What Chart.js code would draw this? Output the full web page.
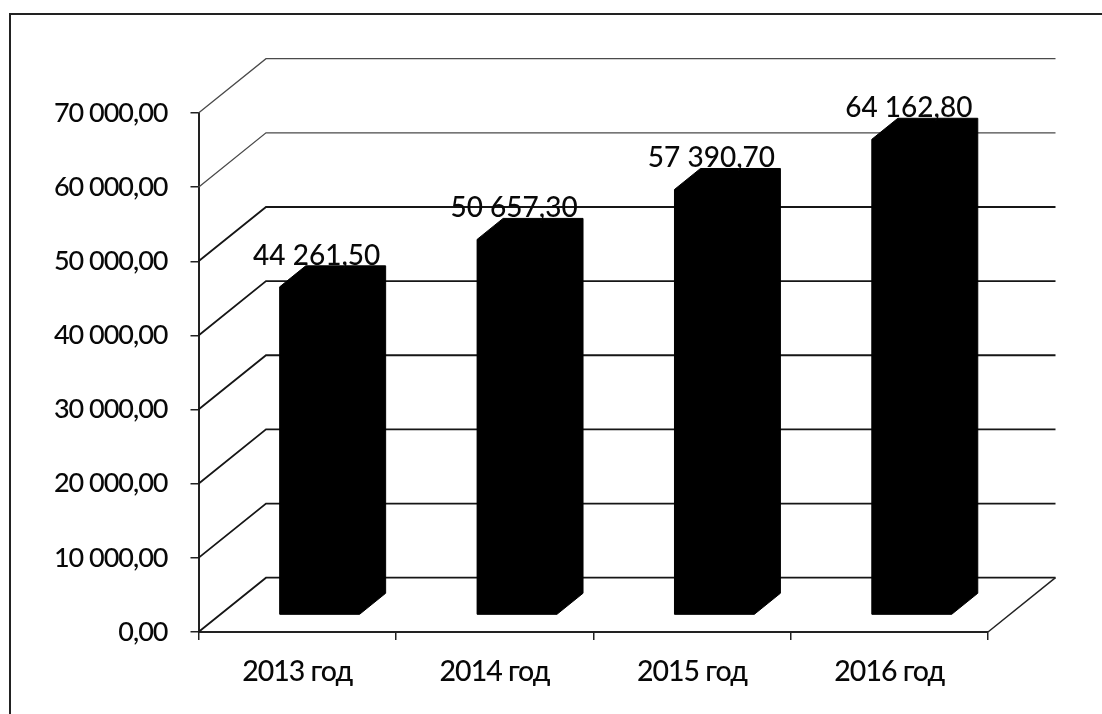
<!DOCTYPE html>
<html lang="ru">
<head>
<meta charset="utf-8">
<title>2013–2016</title>
<style>
html,body{margin:0;padding:0;background:#fff;}
#wrap{position:relative;width:1102px;height:714px;}
canvas{display:block;}
</style>
<script src="https://cdn.jsdelivr.net/npm/chart.js@4"></script>
</head>
<body>
<div id="wrap"><canvas id="c" width="1102" height="714"></canvas></div>
<script>
const categories = ["2013 год", "2014 год", "2015 год", "2016 год"];
const values = [44261.50, 50657.30, 57390.70, 64162.80];
const axisMax = 70000;
const axisStep = 10000;

const INK = "#080808";
const FONT = "Lato";
const wallDX = 67.5, wallDY = -54.3;   // floor depth of the 3D box
const barDX = 22.5, barDY = -17;       // where the bar's front face sits inside the box
const sideDX = 26, sideDY = -21;       // depth of each bar

function fmt(v, decimals) {
  const s = v.toFixed(decimals).split(".");
  const whole = s[0].replace(/\B(?=(\d{3})+(?!\d))/g, " ");
  return whole + "," + s[1];
}

const box3d = {
  id: "box3d",
  beforeDraw(chart) {
    chart.ctx.letterSpacing = "-1px";
  },
  beforeDatasetsDraw(chart) {
    const { ctx, scales: { x, y } } = chart;
    const L = x.left, R = x.right;
    ctx.save();
    // page frame
    ctx.strokeStyle = "#222"; ctx.lineWidth = 2;
    ctx.beginPath(); ctx.moveTo(10, 714); ctx.lineTo(10, 14); ctx.lineTo(1102, 14); ctx.stroke();
    // wall grid
    y.ticks.forEach(t => {
      const py = y.getPixelForValue(t.value);
      ctx.strokeStyle = t.value >= 60000 ? "#4a4a4a" : "#161616";
      ctx.lineWidth = t.value >= 60000 ? 1.3 : 1.8;
      ctx.beginPath();
      ctx.moveTo(L, py);
      ctx.lineTo(L + wallDX, py + wallDY);
      ctx.lineTo(R + wallDX, py + wallDY);
      ctx.stroke();
    });
    // right floor edge
    const p0 = y.getPixelForValue(0);
    ctx.strokeStyle = "#222"; ctx.lineWidth = 1.5;
    ctx.beginPath(); ctx.moveTo(R, p0); ctx.lineTo(R + wallDX, p0 + wallDY); ctx.stroke();
    ctx.restore();
  },
  beforeDatasetDraw(chart) {
    chart.ctx.save();
    chart.ctx.translate(barDX, barDY);
  },
  afterDatasetDraw(chart, args) {
    const ctx = chart.ctx;
    ctx.fillStyle = "#000";
    ctx.strokeStyle = "#000";
    ctx.lineWidth = 1;
    chart.getDatasetMeta(args.index).data.forEach(b => {
      const l = b.x - b.width / 2, r = b.x + b.width / 2;
      ctx.beginPath();
      ctx.moveTo(l, b.y);
      ctx.lineTo(l + sideDX, b.y + sideDY);
      ctx.lineTo(r + sideDX, b.y + sideDY);
      ctx.lineTo(r + sideDX, b.base + sideDY);
      ctx.lineTo(r, b.base);
      ctx.lineTo(l, b.base);
      ctx.closePath();
      ctx.fill();
      ctx.stroke();
    });
    ctx.restore();
  },
  afterDatasetsDraw(chart) {
    const ctx = chart.ctx;
    ctx.save();
    ctx.letterSpacing = "0px";
    ctx.fillStyle = INK;
    ctx.font = "500 28px " + FONT;
    ctx.textAlign = "center";
    ctx.textBaseline = "alphabetic";
    chart.getDatasetMeta(0).data.forEach((b, i) => {
      ctx.fillText(fmt(values[i], 2), b.x + barDX - 3, b.y + barDY + sideDY - 1);
    });
    ctx.restore();
  }
};

new Chart(document.getElementById("c"), {
  type: "bar",
  data: {
    labels: categories,
    datasets: [{
      data: values,
      backgroundColor: "#000",
      borderWidth: 0,
      categoryPercentage: 1,
      barPercentage: 0.405
    }]
  },
  options: {
    responsive: false,
    animation: false,
    events: [],
    layout: { padding: { top: 113, right: 114, left: 0, bottom: 0 } },
    plugins: { legend: { display: false }, tooltip: { enabled: false }, title: { display: false } },
    scales: {
      x: {
        offset: true,
        afterFit(s) { s.height = 82; },
        border: { display: true, color: "#222", width: 2 },
        grid: { offset: true, drawOnChartArea: false, drawTicks: true, tickLength: 8, color: "#222", lineWidth: 1.5 },
        ticks: { color: INK, font: { family: FONT, size: 28.5, weight: "500" }, padding: 15, maxRotation: 0 }
      },
      y: {
        min: 0,
        max: axisMax,
        afterFit(s) { s.width = 198.5; },
        border: { display: true, color: "#222", width: 2 },
        grid: { drawOnChartArea: false, drawTicks: true, tickLength: 8, color: "#222", lineWidth: 1.5 },
        ticks: {
          stepSize: axisStep,
          color: INK,
          font: { family: FONT, size: 27, weight: "500" },
          padding: 23,
          callback: v => fmt(v, 2)
        }
      }
    }
  },
  plugins: [box3d]
});
</script>
</body>
</html>
